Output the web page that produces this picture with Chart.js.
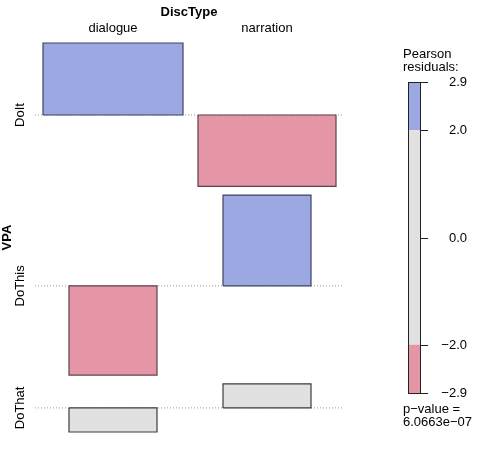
<!DOCTYPE html>
<html lang="en">
<head>
  <meta charset="UTF-8">
  <title>Association plot</title>
  <style>
    html, body { margin: 0; padding: 0; background: #fff; }
  </style>
</head>
<body>
  <canvas id="assoc" width="477" height="450"></canvas>
  <script src="https://cdn.jsdelivr.net/npm/chart.js@4/dist/chart.umd.min.js"></script>
  <script>
    const discTypes = ['dialogue', 'narration'];
    const vpaLevels = ['DoIt', 'DoThis', 'DoThat'];
    // Pearson residuals per VPA level (box heights)
    const dialogueResiduals = [2.30, -2.85, -0.77];
    const narrationResiduals = [-2.28, 2.90, 0.77];
    // sqrt(expected) in relative units (box widths)
    const dialogueWidths = [1.40, 0.88, 0.88];
    const narrationWidths = [1.38, 0.88, 0.88];
    const legendTicks = [2.9, 2.0, 0.0, -2.0, -2.9];
    const pValueText = '6.0663e\u221207';

    const residuals = [dialogueResiduals, narrationResiduals];
    const widths = [dialogueWidths, narrationWidths];

    const fontName = '"Liberation Sans", Arial, sans-serif';
    const blue = '#9ca8e2', red = '#e596a6', grey = '#e1e1e1';

    function fillFor(r) {
      if (r > 2) return blue;
      if (r < -2) return red;
      return grey;
    }
    function borderFor(r) {
      if (r > 2) return '#3e4160';
      if (r < -2) return '#5e4248';
      return '#3c3c3c';
    }

    // column centres from the widest box in each column
    const outerGap = 0.08, colGap = 0.15, rowGap = 0.28;
    const centers = [];
    let xPos = outerGap;
    widths.forEach((w, j) => {
      const half = Math.max(...w) / 2;
      if (j > 0) xPos += colGap;
      centers.push(xPos + half);
      xPos += 2 * half;
    });
    const xMax = xPos + 0.07;

    // row baselines from the tallest boxes in each row
    const baselines = [];
    let yTop = 0;
    vpaLevels.forEach((lvl, i) => {
      const vals = residuals.map(col => col[i]);
      const up = Math.max(0, ...vals);
      const down = Math.max(0, ...vals.map(v => -v));
      const base = yTop - up;
      baselines.push(base);
      yTop = base - down - rowGap;
    });
    const yMin = yTop + rowGap;

    const datasets = [];
    baselines.forEach((b) => {
      datasets.push({
        data: [{ x: 0, y: b }, { x: xMax, y: b }],
        borderColor: '#999999',
        borderWidth: 1,
        borderDash: [1, 2],
        pointRadius: 0,
        fill: false,
        order: 2
      });
    });
    discTypes.forEach((d, j) => {
      vpaLevels.forEach((lvl, i) => {
        const r = residuals[j][i];
        const w = widths[j][i];
        const b = baselines[i];
        const x0 = centers[j] - w / 2, x1 = centers[j] + w / 2;
        datasets.push({
          data: [
            { x: x0, y: b }, { x: x0, y: b + r }, { x: x1, y: b + r },
            { x: x1, y: b }, { x: x0, y: b }
          ],
          borderColor: borderFor(r),
          backgroundColor: fillFor(r),
          borderWidth: 1.2,
          pointRadius: 0,
          tension: 0,
          fill: 'shape',
          clip: false,
          order: 1
        });
      });
    });

    const labelsPlugin = {
      id: 'assocLabels',
      afterDraw(chart) {
        const ctx = chart.ctx;
        const xs = chart.scales.x, ys = chart.scales.y;
        const area = chart.chartArea;
        ctx.save();
        ctx.fillStyle = '#000';
        ctx.textBaseline = 'middle';
        ctx.textAlign = 'center';
        ctx.font = 'bold 13px ' + fontName;
        ctx.fillText('DiscType', (area.left + area.right) / 2, 12);
        ctx.font = '13px ' + fontName;
        discTypes.forEach((d, j) => {
          ctx.fillText(d, xs.getPixelForValue(centers[j]), 28);
        });
        vpaLevels.forEach((lvl, i) => {
          ctx.save();
          ctx.translate(20, ys.getPixelForValue(baselines[i]));
          ctx.rotate(-Math.PI / 2);
          ctx.fillText(lvl, 0, 0);
          ctx.restore();
        });
        ctx.save();
        ctx.translate(7, (area.top + area.bottom) / 2);
        ctx.rotate(-Math.PI / 2);
        ctx.font = 'bold 13px ' + fontName;
        ctx.fillText('VPA', 0, 0);
        ctx.restore();

        // shading legend
        const lx = 408, lw = 12, lTop = 82, lBot = 393;
        const hi = legendTicks[0], lo = legendTicks[legendTicks.length - 1];
        const ly = v => lTop + (hi - v) / (hi - lo) * (lBot - lTop);
        ctx.fillStyle = blue;
        ctx.fillRect(lx, ly(hi), lw, ly(2) - ly(hi));
        ctx.fillStyle = grey;
        ctx.fillRect(lx, ly(2), lw, ly(-2) - ly(2));
        ctx.fillStyle = red;
        ctx.fillRect(lx, ly(-2), lw, ly(lo) - ly(-2));
        ctx.strokeStyle = '#222';
        ctx.lineWidth = 1;
        ctx.strokeRect(lx + 0.5, lTop + 0.5, lw, lBot - lTop);
        ctx.fillStyle = '#000';
        ctx.textAlign = 'right';
        legendTicks.forEach(t => {
          const y = Math.round(ly(t)) + 0.5;
          ctx.beginPath();
          ctx.moveTo(lx + lw, y);
          ctx.lineTo(lx + lw + 8, y);
          ctx.stroke();
          ctx.fillText(t.toFixed(1).replace('-', '\u2212'), 467, y);
        });
        ctx.textAlign = 'left';
        ctx.fillText('Pearson', 403, 54);
        ctx.fillText('residuals:', 403, 67);
        ctx.fillText('p\u2212value =', 403, 409);
        ctx.fillText(pValueText, 403, 422);
        ctx.restore();
      }
    };

    new Chart(document.getElementById('assoc'), {
      type: 'line',
      data: { datasets },
      options: {
        responsive: false,
        animation: false,
        devicePixelRatio: 1,
        layout: { padding: { left: 35, right: 134, top: 43, bottom: 18 } },
        plugins: { legend: { display: false }, tooltip: { enabled: false } },
        scales: {
          x: { type: 'linear', min: 0, max: xMax, display: false },
          y: { type: 'linear', min: yMin, max: 0, display: false }
        }
      },
      plugins: [labelsPlugin]
    });
  </script>
</body>
</html>
